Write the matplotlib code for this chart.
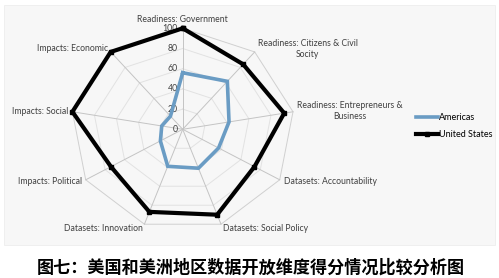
import numpy as np
import matplotlib
matplotlib.use("Agg")
import matplotlib.pyplot as plt
from matplotlib.patches import Rectangle

# Dimensions of the open-data assessment (clockwise from the top)
dimensions = [
    "Readiness: Government",
    "Readiness: Citizens & Civil\nSocity",
    "Readiness: Entrepreneurs &\nBusiness",
    "Datasets: Accountability",
    "Datasets: Social Policy",
    "Datasets: Innovation",
    "Impacts: Political",
    "Impacts: Social",
    "Impacts: Economic",
]
americas = [56, 62, 42, 37, 41, 39, 23, 19, 17]
united_states = [100, 84, 92, 74, 90, 87, 74, 100, 100]
ring_ticks = [0, 20, 40, 60, 80, 100]
ring_tick_labels = ["0", "20", "40", "60", "80", "100"]
series_names = ["Americas", "United States"]
title = "图七：美国和美洲地区数据开放维度得分情况比较分析图"

W, H, DPI = 499, 278, 100
fig = plt.figure(figsize=(W / DPI, H / DPI), dpi=DPI)
fig.patch.set_facecolor("white")

# light chart-area panel, kept behind the radar axes
fig.patches.append(Rectangle((4 / W, 1 - 245 / H), 491 / W, 240 / H,
                             transform=fig.transFigure, facecolor="#f7f7f7",
                             edgecolor="#eeeeee", linewidth=0.6, zorder=-5))

# radar drawn in value units; x is slightly wider than y
cx, cy, sx, sy = 182.7, 129.3, 1.12, 1.01
ax = fig.add_axes([0, 0, 1, 1])
ax.set_zorder(1)
ax.set_xlim(-cx / sx, (W - cx) / sx)
ax.set_ylim(-(H - cy) / sy, cy / sy)
ax.axis("off")
ax.patch.set_alpha(0)

n = len(dimensions)
theta = np.arange(n) * 2 * np.pi / n


def to_xy(vals):
    v = np.asarray(vals, dtype=float)
    x = v * np.sin(theta)
    y = v * np.cos(theta)
    return np.append(x, x[0]), np.append(y, y[0])


# polygon gridlines
for t in ring_ticks[1:]:
    gx, gy = to_xy([t] * n)
    ax.plot(gx, gy, color="#e2e2e2" if t < 100 else "#d0d0d0", lw=0.7, zorder=1)
# spokes
for th in theta:
    ax.plot([0, 100 * np.sin(th)], [0, 100 * np.cos(th)], color="#c4c4c4",
            lw=0.7, zorder=1)

# value tick labels along the top spoke
for t, lab in zip(ring_ticks, ring_tick_labels):
    ax.text(-4.5, t, lab, ha="right", va="center", fontsize=6.3,
            family="Lato", color="#404040", zorder=2)

# series
ax_x, ax_y = to_xy(americas)
ax.plot(ax_x, ax_y, color="#6a9cc4", lw=2.6, solid_joinstyle="miter",
        label=series_names[0], zorder=3)
us_x, us_y = to_xy(united_states)
ax.plot(us_x, us_y, color="black", lw=3.0, marker="s", markersize=3.2,
        solid_joinstyle="miter", label=series_names[1], zorder=4)

# category labels just outside the outer ring
for th, lab in zip(theta, dimensions):
    r = 104
    lx, ly = r * np.sin(th), r * np.cos(th)
    s = np.sin(th)
    if abs(s) < 1e-6:
        ha, va = "center", "bottom"
    elif s > 0:
        ha, va = "left", "center"
    else:
        ha, va = "right", "center"
    ax.text(lx, ly, lab, ha=ha, va=va, multialignment="center",
            fontsize=6.2, family="Lato", color="#404040",
            linespacing=1.25, zorder=2)

fig.legend(loc="upper left", bbox_to_anchor=(416 / W, 1 - 113 / H),
           frameon=False, prop={"family": "Lato", "size": 6.5},
           handlelength=2.4, handletextpad=0.1, labelspacing=0.85,
           borderpad=0, borderaxespad=0)

fig.text(251 / W, 1 - 268 / H, title, ha="center", va="center",
         fontsize=12.3, fontweight="bold",
         family=["Noto Sans CJK SC", "DejaVu Sans"], color="black")

fig.savefig("out.png", dpi=DPI)
